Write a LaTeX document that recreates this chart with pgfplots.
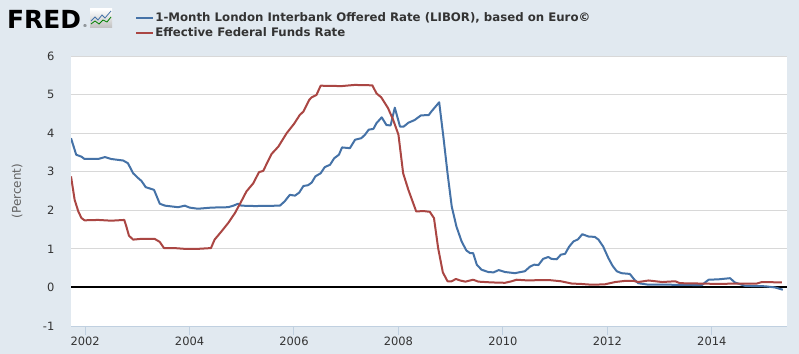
\documentclass[border=0pt]{standalone}
\usepackage{fontspec}
\setmainfont{DejaVu Sans}
\usepackage{pgfplots}
\pgfplotsset{compat=1.18}
\definecolor{bgc}{HTML}{E1E9F0}
\definecolor{libor}{HTML}{4572A7}
\definecolor{fedf}{HTML}{AA4643}
\definecolor{gridc}{HTML}{D8D8D8}
\definecolor{axc}{HTML}{C0D0E0}
\definecolor{txt}{HTML}{333333}
\definecolor{lab}{HTML}{606060}
\begin{document}
\begin{tikzpicture}
\fill[bgc] (0bp,0bp) rectangle (799bp,354bp);
\node[anchor=north west, inner sep=0pt, font=\bfseries\fontsize{25}{25}\selectfont, text=black] at (7bp,344bp) {FRED};
\node[anchor=south west, inner sep=0pt, font=\fontsize{4}{4}\selectfont, text=black] at (83bp,326bp) {®};
\shade[top color=white, bottom color=black!25] (90bp,326bp) rectangle (112bp,345bp);
\draw[libor, line width=0.8bp] (91bp,333bp) -- (95bp,337bp) -- (98bp,334bp) -- (102bp,339bp) -- (105bp,336bp) -- (111bp,343bp);
\draw[green!50!black, line width=0.8bp] (91bp,330bp) -- (95bp,333bp) -- (99bp,330bp) -- (103bp,334bp) -- (107bp,332bp) -- (111bp,337bp);
\begin{axis}[
  at={(71bp,28bp)}, anchor=south west, scale only axis,
  width=716bp, height=270bp,
  xmin=2001.73, xmax=2015.44, ymin=-1, ymax=6,
  axis background/.style={fill=white},
  axis x line*=bottom, axis y line*=left,
  x axis line style={draw=axc, line width=1bp, -},
  y axis line style={draw=none},
  xtick={2002,2004,...,2014}, ytick={-1,0,...,6},
  tick align=outside, major tick length=9bp,
  xtick style={draw=axc, line width=1bp},
  ytick style={draw=none},
  ymajorgrids, major grid style={draw=gridc, line width=1bp},
  extra y ticks={0}, extra y tick labels={},
  extra y tick style={grid=major, major grid style={draw=black, line width=2bp}, major tick length=0pt},
  tick label style={font=\fontsize{11.5}{12}\selectfont, text=txt},
  /pgf/number format/1000 sep={}, /pgf/number format/assume math mode=true,
  xticklabel style={inner sep=0pt, yshift=-2bp},
  yticklabel style={inner sep=0pt, xshift=-7.5bp},
  ylabel={(Percent)},
  ylabel style={at={(axis description cs:-0.0754,0.5)}, anchor=center, font=\fontsize{12}{12}\selectfont, text=lab},
  legend style={draw=none, fill=none, at={(axis description cs:0.0894,1.1656)}, anchor=north west, inner sep=0pt, row sep=1bp, font=\bfseries\fontsize{11.8}{13}\selectfont, text=txt, nodes={inner sep=1.5bp}},
  legend image code/.code={\draw[#1] (0bp,0bp) -- (16.7bp,0bp);},
  legend cell align=left,
]
\addplot[libor, line width=2bp, line join=round] coordinates {
(2001.73,3.87) (2001.83,3.44) (2001.93,3.39) (2001.99,3.33) (2002.25,3.33) (2002.38,3.38)
(2002.50,3.33) (2002.73,3.29) (2002.82,3.22) (2002.92,2.96) (2003.02,2.83) (2003.08,2.76)
(2003.16,2.60) (2003.32,2.53) (2003.43,2.17) (2003.53,2.12) (2003.78,2.08) (2003.91,2.12)
(2004.00,2.07) (2004.16,2.04) (2004.42,2.07) (2004.74,2.08) (2004.84,2.12) (2004.93,2.17)
(2004.99,2.12) (2005.25,2.11) (2005.73,2.12) (2005.82,2.23) (2005.92,2.40) (2006.02,2.38)
(2006.10,2.46) (2006.18,2.63) (2006.27,2.65) (2006.34,2.72) (2006.41,2.88) (2006.51,2.96)
(2006.59,3.12) (2006.69,3.18) (2006.77,3.35) (2006.86,3.44) (2006.92,3.63) (2007.07,3.61)
(2007.17,3.83) (2007.29,3.87) (2007.36,3.96) (2007.43,4.09) (2007.52,4.11) (2007.58,4.26)
(2007.68,4.41) (2007.77,4.21) (2007.85,4.20) (2007.93,4.66) (2008.03,4.17) (2008.10,4.17)
(2008.19,4.27) (2008.31,4.34) (2008.43,4.46) (2008.58,4.47) (2008.63,4.56) (2008.78,4.80)
(2008.86,3.91) (2008.94,2.96) (2009.02,2.10) (2009.11,1.58) (2009.21,1.19) (2009.30,0.96)
(2009.37,0.89) (2009.43,0.89) (2009.50,0.59) (2009.59,0.46) (2009.72,0.40) (2009.82,0.39)
(2009.92,0.45) (2010.04,0.40) (2010.23,0.37) (2010.42,0.42) (2010.52,0.54) (2010.60,0.59)
(2010.68,0.58) (2010.77,0.74) (2010.87,0.79) (2010.93,0.74) (2011.03,0.73) (2011.11,0.85)
(2011.19,0.87) (2011.27,1.06) (2011.35,1.19) (2011.44,1.25) (2011.52,1.38) (2011.64,1.32)
(2011.76,1.31) (2011.83,1.24) (2011.92,1.06) (2012.02,0.76) (2012.10,0.56) (2012.18,0.42)
(2012.27,0.37) (2012.43,0.35) (2012.52,0.20) (2012.59,0.11) (2012.79,0.07) (2013.20,0.07)
(2013.81,0.06) (2013.90,0.16) (2013.94,0.20) (2014.13,0.21) (2014.35,0.24) (2014.44,0.13)
(2014.64,0.04) (2015.02,0.03) (2015.21,0.00) (2015.36,-0.06)
};
\addlegendentry{1-Month London Interbank Offered Rate (LIBOR), based on Euro©}
\addplot[fedf, line width=2bp, line join=round] coordinates {
(2001.73,2.88) (2001.80,2.27) (2001.87,1.97) (2001.93,1.80) (2001.99,1.74) (2002.25,1.75)
(2002.50,1.73) (2002.75,1.75) (2002.79,1.58) (2002.84,1.34) (2002.92,1.24) (2003.08,1.26)
(2003.33,1.26) (2003.43,1.18) (2003.51,1.02) (2003.71,1.02) (2003.91,1.00) (2004.16,1.00)
(2004.41,1.02) (2004.48,1.24) (2004.61,1.45) (2004.74,1.67) (2004.87,1.93) (2004.99,2.23)
(2005.09,2.49) (2005.22,2.70) (2005.33,2.99) (2005.41,3.02) (2005.57,3.46) (2005.70,3.65)
(2005.86,4.00) (2006.00,4.24) (2006.11,4.47) (2006.18,4.56) (2006.29,4.86) (2006.34,4.93)
(2006.43,4.99) (2006.51,5.23) (2006.91,5.22) (2007.16,5.25) (2007.50,5.24) (2007.58,5.03)
(2007.67,4.93) (2007.80,4.65) (2007.90,4.34) (2008.00,3.96) (2008.09,2.96) (2008.19,2.53)
(2008.34,1.97) (2008.48,1.98) (2008.60,1.96) (2008.68,1.80) (2008.76,1.02) (2008.85,0.39)
(2008.94,0.16) (2009.02,0.16) (2009.10,0.22) (2009.18,0.18) (2009.28,0.15) (2009.43,0.20)
(2009.53,0.15) (2009.78,0.13) (2010.04,0.12) (2010.17,0.16) (2010.26,0.20) (2010.49,0.18)
(2010.68,0.19) (2010.89,0.19) (2011.11,0.16) (2011.32,0.10) (2011.50,0.09) (2011.70,0.07)
(2011.95,0.08) (2012.15,0.14) (2012.34,0.17) (2012.50,0.17) (2012.59,0.14) (2012.79,0.18)
(2012.92,0.16) (2013.05,0.14) (2013.30,0.16) (2013.39,0.11) (2013.81,0.10) (2014.13,0.09)
(2014.44,0.10) (2014.86,0.10) (2014.96,0.14) (2015.34,0.13)
};
\addlegendentry{Effective Federal Funds Rate}
\end{axis}
\pgfresetboundingbox
\useasboundingbox (0bp,0bp) rectangle (799bp,354bp);
\end{tikzpicture}
\end{document}
